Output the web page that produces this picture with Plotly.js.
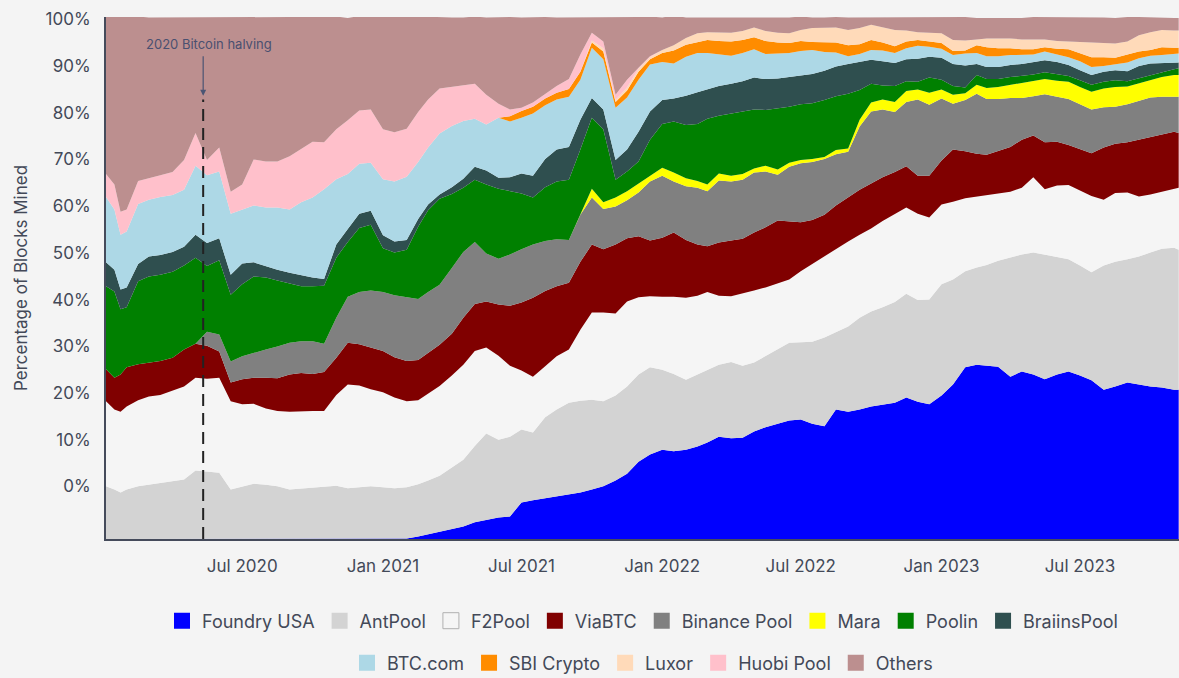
<!DOCTYPE html>
<html>
<head>
<meta charset="utf-8">
<script src="https://cdn.plot.ly/plotly-3.0.1.min.js"></script>
<style>
html,body{margin:0;padding:0;background:#f4f4f4;}
#chart{width:1179px;height:678px;}
</style>
</head>
<body>
<div id="chart"></div>
<script>
// Sample dates (semi-monthly)
const dates = [
'2020-01-05','2020-01-16','2020-01-24','2020-02-01','2020-02-16','2020-03-01','2020-03-16','2020-04-01','2020-04-16','2020-05-01','2020-05-16','2020-06-01','2020-06-16','2020-07-01','2020-07-16','2020-08-01','2020-08-16','2020-09-01','2020-09-16','2020-10-01','2020-10-16','2020-11-01','2020-11-16','2020-12-01','2020-12-16',
'2021-01-01','2021-01-16','2021-02-01','2021-02-16','2021-03-01','2021-03-16','2021-04-01','2021-04-16','2021-05-01','2021-05-16','2021-06-01','2021-06-16','2021-07-01','2021-07-16','2021-08-01','2021-08-16','2021-09-01','2021-09-16','2021-10-01','2021-10-16','2021-11-01','2021-11-16','2021-12-01','2021-12-16',
'2022-01-01','2022-01-16','2022-02-01','2022-02-16','2022-03-01','2022-03-16','2022-04-01','2022-04-16','2022-05-01','2022-05-16','2022-06-01','2022-06-16','2022-07-01','2022-07-16','2022-08-01','2022-08-16','2022-09-01','2022-09-16','2022-10-01','2022-10-16','2022-11-01','2022-11-16','2022-12-01','2022-12-16',
'2023-01-01','2023-01-16','2023-02-01','2023-02-16','2023-03-01','2023-03-16','2023-04-01','2023-04-16','2023-05-01','2023-05-16','2023-06-01','2023-06-16','2023-07-01','2023-07-16','2023-08-01','2023-08-16','2023-09-01','2023-09-16','2023-10-01','2023-10-16','2023-11-01','2023-11-07'
];

// Share of each pool (in % of the plotted stack height), bottom to top
const foundryUSA = [0,0,0,0,0,0,0,0,0,0, 0,0,0,0,0,0,0,0,0,0, 0,0,0,0,0,0,0,
0.1,0.5,0.9,1.4,2.0,2.4,3.2,3.7,4.1,4.3,
7.0,7.4,7.8,8.1,8.5,8.9,9.5,10.1,11.2,12.5,
14.8,16.2,17.1,16.8,17.1,17.7,18.5,19.6,19.3,19.4,
20.6,21.4,22.1,22.7,22.9,22.1,21.6,24.8,24.4,24.8,
25.4,25.8,26.1,27.1,26.3,25.8,27.5,29.6,32.9,33.4,
33.2,33.0,31.1,32.1,31.5,30.6,31.5,32.1,31.3,30.4,
28.6,29.2,30.0,29.6,29.2,29.0,28.6,28.6];

const antPool = [10.1,9.5,8.9,9.5,10.1,10.4,10.6,11.0,11.4,13.1,
12.9,12.7,9.5,10.1,10.6,10.4,10.1,9.5,9.7,9.9,
10.1,10.2,9.7,9.9,10.1,9.9,9.7,9.8,10.0,10.3,
10.7,11.7,12.8,14.6,16.5,14.9,15.3,14.0,13.0,15.5,
16.7,17.6,17.6,17.2,16.3,16.3,16.7,16.7,16.7,15.3,
14.8,13.4,13.8,14.0,13.8,14.6,13.8,13.2,13.6,14.2,
14.9,14.8,15.7,17.0,14.8,16.3,17.6,18.2,18.6,19.3,
19.9,19.5,20.1,21.3,20.1,18.4,18.6,19.3,20.3,22.8,
22.4,23.4,23.9,22.6,21.5,21.1,20.7,23.8,23.9,23.6,
24.5,25.7,26.6,27.2,26.8];

const f2Pool = [16.3,15.3,15.5,15.9,16.5,16.9,17.0,17.4,17.8,17.8,
17.8,18.2,16.9,15.7,15.3,14.6,14.4,14.9,14.8,14.6,
14.4,17.4,19.9,19.5,18.6,18.2,17.4,16.5,16.1,16.7,
17.2,17.6,18.2,18.2,16.5,16.1,13.6,11.3,10.7,9.8,
10.2,10.2,13.6,16.7,17.0,15.7,16.3,14.8,13.6,14.0,
14.8,15.7,15.1,14.8,13.2,12.6,13.8,13.8,13.2,12.6,
12.1,13.6,14.9,15.5,15.9,16.3,15.9,15.9,16.5,16.9,
16.5,16.5,15.7,15.3,14.9,14.0,13.6,13.4,12.8,12.6,
12.8,14.4,12.5,13.6,14.2,14.4,14.6,12.6,13.2,12.8,
11.5,11.1,10.9,11.3,11.9];

const viaBTC = [6.1,6.1,7.1,7.5,6.9,6.5,6.5,6.3,7.1,6.5,
6.3,5.0,3.6,4.8,5.0,5.9,6.3,7.1,7.3,7.1,
7.5,7.1,8.0,7.9,8.0,7.9,7.7,7.7,7.7,7.7,
7.9,8.0,9.0,9.0,8.8,9.8,11.5,13.0,15.1,14.4,
13.4,12.8,13.0,13.0,12.1,13.2,12.1,11.7,10.7,11.3,
12.3,11.1,9.8,8.8,10.2,10.7,10.5,11.1,11.5,12.1,
11.1,9.4,8.4,8.0,8.4,8.4,8.6,8.6,8.4,8.0,
7.9,7.3,8.0,8.4,10.0,9.0,8.2,7.7,8.2,8.6,
9.2,8.0,9.0,8.4,7.7,7.9,8.2,10.0,9.4,9.6,
10.9,11.1,11.1,10.9,10.5];

const binancePool = [0,0,0,0,0,0,0,0,0,0,
2.7,3.3,4.0,4.4,4.8,5.4,6.1,6.1,6.1,6.3,
5.4,7.7,8.8,10.0,10.9,11.3,11.9,12.3,11.7,11.7,
11.5,12.6,12.6,11.9,9.2,8.8,9.8,10.2,10.2,9.6,
9.0,8.2,9.0,9.0,7.7,7.3,7.3,8.4,11.3,11.9,
9.8,10.3,10.9,10.5,11.9,11.3,11.3,11.5,10.7,8.8,
10.5,11.3,11.1,10.7,9.8,8.8,12.1,13.8,13.0,11.5,
12.3,14.6,13.6,11.9,8.8,9.8,11.5,10.7,10.0,9.4,
8.0,7.5,9.2,8.6,8.8,8.6,8.4,7.7,7.1,7.3,
7.5,7.5,7.1,6.7,6.9];

const mara = [0,0,0,0,0,0,0,0,0,0, 0,0,0,0,0,0,0,0,0,0,
0,0,0,0,0,0,0,0,0,0, 0,0,0,0,0,0,0,0,0,0, 0,0,0,
1.7,1.3,1.7,1.7,1.7,1.1,1.5,1.7,1.5,1.3,
1.3,1.3,1.1,1.1,0.8,1.1,1.0,0.8,0.6,0.6,
0.4,0.8,0.6,1.3,1.7,1.9,1.9,2.1,1.9,2.3,
1.7,1.7,1.3,1.7,2.1,2.3,2.5,2.9,2.9,2.9,
3.1,3.3,3.3,3.4,3.6,3.8,3.4,3.3,3.4,3.8,
4.2,4.2];

const poolin = [15.9,16.5,12.5,11.5,15.9,16.5,16.5,16.5,16.1,16.5,
12.6,14.2,12.8,13.8,14.6,13.8,12.6,11.3,10.5,10.5,
11.1,11.5,10.5,12.3,12.6,8.4,8.2,9.0,13.8,15.7,
16.5,14.2,12.3,11.9,13.2,13.4,12.1,10.7,9.0,10.3,
11.1,11.5,12.5,13.6,14.0,3.4,3.8,4.2,6.9,8.4,
9.8,10.2,10.9,12.6,11.1,11.9,11.9,11.3,10.7,11.7,
10.7,10.7,10.7,10.9,10.3,10.5,5.7,3.6,2.7,3.1,
1.9,1.5,2.9,1.9,1.7,1.1,1.9,1.7,1.5,1.5,
1.3,1.3,1.3,1.3,1.1,1.3,1.3,1.3,1.3,1.0,
1.0,0.8,1.0,1.1,1.3];

const braiinsPool = [4.6,4.2,3.8,3.8,3.3,3.8,3.8,3.8,3.6,4.4,
4.4,4.2,3.8,4.0,2.7,2.1,2.1,2.1,2.1,1.7,
1.3,2.5,2.5,2.7,2.7,2.5,2.1,1.9,1.5,1.1,
0.8,1.3,1.7,2.5,2.7,2.1,2.7,3.8,4.2,5.4,
6.1,6.3,5.7,3.8,3.8,3.8,4.2,5.7,5.4,4.6,
4.4,5.6,6.1,5.7,5.7,5.7,5.9,6.1,5.9,5.7,
5.7,5.6,5.6,5.6,5.7,5.7,5.4,4.6,4.6,4.4,
4.2,4.4,4.0,4.2,4.2,4.2,2.1,2.3,2.3,2.3,
2.3,2.3,2.3,2.3,2.1,1.9,1.9,1.9,1.9,1.9,
2.3,2.3,1.7,1.3,1.1];

const btcCom = [12.5,11.5,10.5,10.7,11.5,10.9,11.1,10.9,10.9,13.2,
13.0,12.8,11.7,10.3,10.9,11.3,11.9,12.1,14.0,15.3,
17.2,12.5,10.5,9.6,9.2,10.7,11.5,12.1,10.9,10.9,
11.7,11.7,11.1,9.2,8.8,11.5,10.7,10.7,11.9,10.3,
9.6,9.6,7.7,9.6,9.6,10.0,10.0,10.0,9.0,7.3,
6.7,7.5,7.5,6.9,6.1,5.4,5.4,5.4,4.8,4.8,
4.6,4.6,4.6,3.6,2.7,1.5,1.5,1.9,2.1,1.9,
2.1,2.5,1.9,1.7,1.7,2.3,2.1,2.1,2.1,1.9,
1.7,1.5,1.7,1.5,1.5,1.7,1.5,1.1,1.1,1.7,
1.5,1.5,1.5,1.7,1.7];

const sbiCrypto = [0,0,0,0,0,0,0,0,0,0, 0,0,0,0,0,0,0,0,0,0,
0,0,0,0,0,0,0,0,0,0, 0,0,0,0,0,0,
1.0,1.3,1.3,1.3,1.3,1.5,1.5,1.0,1.5,1.1,
1.3,1.5,1.0,1.7,2.5,2.3,2.1,2.5,2.5,2.7,
2.5,2.3,2.5,2.1,1.9,1.9,1.5,1.9,1.9,2.1,
1.9,1.9,1.5,1.3,1.3,1.1,1.0,1.1,0.8,0.6,
1.5,1.7,1.5,1.3,1.1,1.0,0.8,1.0,1.5,1.5,
1.9,1.7,1.3,1.5,1.3,1.1,1.5,1.1,1.1];

const luxor = [0,0,0,0,0,0,0,0,0,0, 0,0,0,0,0,0,0,0,0,0,
0,0,0,0,0,0,0,0,0,0, 0,0,0,0,0,0,0,0,0,0, 0,0,0,
0.4,0.6,0.4,0.6,0.6,0.4,0.6,1.0,1.3,1.7,
1.5,1.7,1.7,1.7,1.9,1.9,1.9,1.9,2.1,2.7,
2.7,2.9,2.9,3.1,2.9,2.9,3.1,2.1,1.5,1.7,
1.9,2.1,1.9,1.1,1.7,1.9,1.9,1.9,1.9,1.5,
1.5,1.5,2.1,2.7,2.7,2.7,2.5,3.1,3.4,3.3,
3.3,3.3];

const huobiPool = [4.4,4.8,4.4,4.2,4.4,4.2,4.2,4.4,5.7,6.3,
2.9,4.6,4.2,4.8,8.8,8.8,8.8,10.2,10.2,10.7,
9.0,9.6,10.3,10.2,10.2,9.6,9.4,9.2,9.6,9.2,
8.6,7.5,6.9,6.7,5.7,2.7,1.3,0.6,0.8,0.8,
1.3,1.9,3.3,1.5,1.3,1.0,1.5,0.2,0.2,
0,0,0,0,0,0,0,0,0,0, 0,0,0,0,0,0,0,0,0,0,
0,0,0,0,0,0,0,0,0,0, 0,0,0,0,0,0,0,0,0,0,
0,0,0,0,0,0];

const others = [30.2,32.1,37.3,36.9,31.5,30.7,30.2,29.6,27.3,22.1,
27.3,25.0,33.4,32.1,27.3,27.7,27.7,26.7,25.4,23.9,
24.0,21.6,19.6,18.1,17.7,21.6,22.1,21.6,18.3,15.8,
13.7,13.3,12.9,12.9,14.8,16.6,17.7,17.3,16.4,14.8,
13.1,11.8,7.2,3.0,4.7,14.8,12.0,9.7,7.6,6.2,
5.7,3.9,3.0,2.8,2.8,3.0,2.6,2.0,2.6,3.0,
3.0,2.6,2.0,2.0,2.0,2.4,2.0,1.4,2.0,2.4,
2.6,2.8,3.0,3.0,4.3,4.5,4.1,3.9,3.9,3.9,
4.1,4.3,4.3,4.5,4.7,4.9,4.9,4.9,4.9,4.7,
3.5,2.8,2.4,2.4,2.4];

const poolNames = ['Foundry USA','AntPool','F2Pool','ViaBTC','Binance Pool','Mara','Poolin','BraiinsPool','BTC.com','SBI Crypto','Luxor','Huobi Pool','Others'];
const poolValues = [foundryUSA, antPool, f2Pool, viaBTC, binancePool, mara, poolin, braiinsPool, btcCom, sbiCrypto, luxor, huobiPool, others];
const poolColors = ['#0000ff','#d3d3d3','#f5f5f5','#800000','#808080','#ffff00','#008000','#2f4f4f','#add8e6','#ff8c00','#ffdab9','#ffc0cb','#bc8f8f'];

const yTickText = ['0%','10%','20%','30%','40%','50%','60%','70%','80%','90%','100%'];
const halvingDate = '2020-05-11';
const halvingLabel = '2020 Bitcoin halving';

const FONT = 'Inter, "Noto Sans", "DejaVu Sans", sans-serif';
const TXT = '#434958';

const traces = [];
poolNames.forEach((name, i) => {
  traces.push({
    type: 'scatter', x: dates, y: poolValues[i], name: name,
    stackgroup: 'pools', mode: 'lines', line: {width: 0, color: poolColors[i]},
    fillcolor: poolColors[i], showlegend: false,
    hovertemplate: name + ': %{y:.1f}%<extra></extra>'
  });
});
// legend swatches
poolNames.forEach((name, i) => {
  traces.push({
    type: 'scatter', x: [null], y: [null], name: name, mode: 'markers',
    marker: {symbol: 'square', size: 16, color: poolColors[i],
             line: {width: name === 'F2Pool' ? 1 : 0, color: '#b0b0b0'}},
    legend: i < 8 ? 'legend' : 'legend2', hoverinfo: 'skip'
  });
});

const legendStyle = {
  orientation: 'h', traceorder: 'normal',
  xref: 'paper', xanchor: 'center', x: 0.5,
  yref: 'container', yanchor: 'middle',
  font: {family: FONT, size: 18, color: TXT}, bgcolor: 'rgba(0,0,0,0)',
  itemclick: false, itemdoubleclick: false
};

const layout = {
  width: 1179, height: 678,
  margin: {l: 106, r: 0, t: 17, b: 139},
  paper_bgcolor: '#f4f4f4', plot_bgcolor: '#f4f4f4',
  font: {family: FONT, color: TXT, size: 17},
  xaxis: {
    type: 'date', range: ['2020-01-05', '2023-11-07 10:00'],
    tickformat: '%b %Y', dtick: 'M6', tick0: '2020-01-01',
    showgrid: false, zeroline: false, showline: true, linecolor: '#454b5b', linewidth: 2,
    ticks: '', ticklabelstandoff: 11, tickfont: {size: 17, color: TXT}
  },
  yaxis: {
    range: [0, 100], showgrid: false, zeroline: false,
    showline: true, linecolor: '#454b5b', linewidth: 2, ticks: '',
    tickvals: yTickText.map((t, i) => 10.06 + 8.95 * i), ticktext: yTickText,
    ticklabelstandoff: 10, tickfont: {size: 17, color: TXT},
    title: {text: 'Percentage of Blocks Mined', font: {size: 17, color: TXT}, standoff: 14}
  },
  legend: Object.assign({y: 1 - 621 / 678}, legendStyle),
  legend2: Object.assign({y: 1 - 663 / 678}, legendStyle),
  shapes: [{
    type: 'line', xref: 'x', yref: 'y', x0: halvingDate, x1: halvingDate, y0: 0, y1: 84.2,
    line: {color: '#222222', width: 2, dash: '12px,7px'}
  }],
  annotations: [
    {xref: 'x', yref: 'y', x: halvingDate, y: 94.9, text: halvingLabel, showarrow: false,
     xshift: 6, font: {size: 13, color: '#4a5070', family: FONT}},
    {xref: 'x', yref: 'y', x: halvingDate, y: 84.9, text: '', showarrow: true,
     ax: 0, ay: -41, arrowhead: 2, arrowsize: 1, arrowwidth: 1.2, arrowcolor: '#4b5574'}
  ],
  hovermode: 'x'
};

Plotly.newPlot('chart', traces, layout, {displayModeBar: false});
</script>
</body>
</html>
